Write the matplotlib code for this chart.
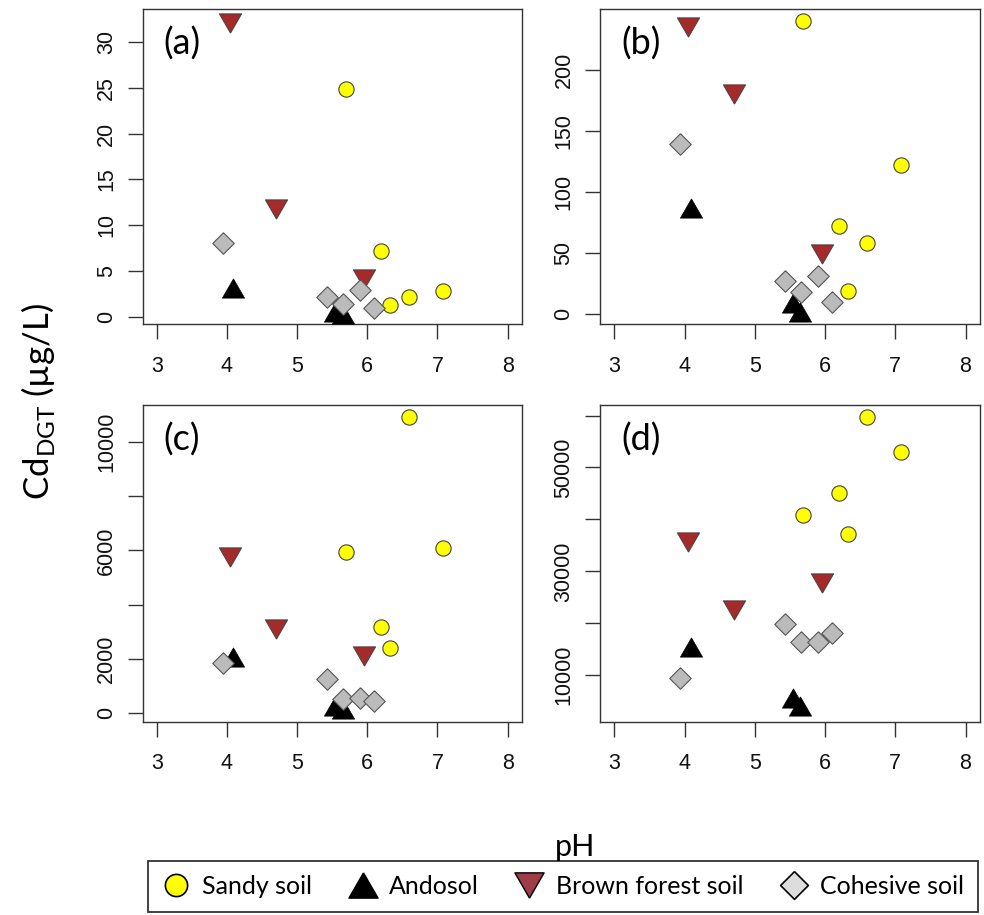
import matplotlib
matplotlib.use("Agg")
import matplotlib.pyplot as plt
from matplotlib.lines import Line2D

plt.rcParams["font.family"] = ["Liberation Sans", "DejaVu Sans"]

# pH of each soil (same in every panel)
sandy_ph = [5.69, 6.20, 6.32, 6.60, 7.08]
andosol_ph = [4.09, 5.54, 5.65]
brown_ph = [4.05, 4.70, 5.95]
cohesive_ph = [3.94, 5.43, 5.66, 5.90, 6.10]

# Cd_DGT values per panel
panel_labels = ["(a)", "(b)", "(c)", "(d)"]
sandy_vals = [
    [24.9, 7.2, 1.3, 2.2, 2.8],
    [240, 72, 19, 58, 122],
    [5950, 3180, 2380, 10950, 6080],
    [40800, 45100, 37100, 59800, 53000],
]
andosol_vals = [
    [3.1, 0.5, 0.3],
    [87, 9, 2],
    [2050, 250, 150],
    [15400, 5700, 4000],
]
brown_vals = [
    [32.1, 11.8, 4.1],
    [235, 180, 49],
    [5750, 3110, 2090],
    [35600, 22600, 27700],
]
cohesive_vals = [
    [8.0, 2.2, 1.4, 2.9, 0.9],
    [139, 27, 18, 31, 10],
    [1850, 1235, 500, 530, 440],
    [9400, 19800, 16400, 16400, 18200],
]
y_limits = [(-0.83, 33.6), (-8.2, 249.6), (-344, 11368), (1000, 61965)]
y_ticks = [
    [0, 5, 10, 15, 20, 25, 30],
    [0, 50, 100, 150, 200],
    [0, 2000, 4000, 6000, 8000, 10000],
    [10000, 20000, 30000, 40000, 50000, 60000],
]
y_ticklabels = [
    ["0", "5", "10", "15", "20", "25", "30"],
    ["0", "50", "100", "150", "200"],
    ["0", "2000", "", "6000", "", "10000"],
    ["10000", "", "30000", "", "50000", ""],
]
x_ticks = [3, 4, 5, 6, 7, 8]

# marker shapes (bbox centred, equilateral triangles)
tri_up = [(0, 0.866), (-1, -0.866), (1, -0.866), (0, 0.866)]
tri_down = [(0, -0.866), (-1, 0.866), (1, 0.866), (0, -0.866)]
diamond = [(0, 1), (1, 0), (0, -1), (-1, 0), (0, 1)]

W, H = 984, 915
fig = plt.figure(figsize=(W / 100, H / 100), dpi=100)

# axes boxes in pixels: left, top, right, bottom
boxes = [
    (142.7, 9, 521.7, 324.3),
    (600.3, 9, 979.6, 324.3),
    (142.7, 405.3, 521.7, 722),
    (600.3, 405.3, 979.6, 722),
]

edge = "#333333"
for i in range(4):
    l, t, r, b = boxes[i]
    ax = fig.add_axes([l / W, 1 - b / H, (r - l) / W, (b - t) / H])

    ax.scatter(sandy_ph, sandy_vals[i], marker="o", s=11 ** 2, c="#FFFF00",
               edgecolors="#444444", linewidths=0.8, zorder=3)
    ax.scatter(andosol_ph, andosol_vals[i], marker=tri_up, s=16 ** 2, c="black",
               edgecolors="black", linewidths=0.5, zorder=3)
    ax.scatter(brown_ph, brown_vals[i], marker=tri_down, s=16 ** 2, c="#A52A2A",
               edgecolors="#444444", linewidths=0.7, zorder=3)
    ax.scatter(cohesive_ph, cohesive_vals[i], marker=diamond, s=15.5 ** 2, c="#BBBBBB",
               edgecolors="#555555", linewidths=0.8, zorder=3)

    ax.set_xlim(2.8, 8.2)
    ax.set_ylim(*y_limits[i])
    ax.set_xticks(x_ticks)
    ax.set_xticklabels([str(v) for v in x_ticks])
    ax.set_yticks(y_ticks[i])
    ax.set_yticklabels(y_ticklabels[i])

    ax.tick_params(axis="both", direction="out", length=10.5, width=1.0,
                   color=edge, labelsize=15.5, labelcolor="#111111")
    ax.tick_params(axis="x", pad=12)
    ax.tick_params(axis="y", pad=8, labelrotation=90)
    for lbl in ax.get_yticklabels():
        lbl.set_va("center")
    for sp in ax.spines.values():
        sp.set_color(edge)
        sp.set_linewidth(1.0)

    ax.text(0.055, 0.945, panel_labels[i], transform=ax.transAxes, ha="left", va="top",
            fontsize=26, family=["Lato", "DejaVu Sans"])

# axis titles
fig.text(575 / W, 1 - 847 / H, "pH", ha="center", va="center", fontsize=22,
         family=["Lato", "DejaVu Sans"])
fig.text(38 / W, 1 - 402 / H, r"Cd$_{\mathregular{DGT}}$ (µg/L)", ha="center", va="center",
         rotation=90, fontsize=25, family=["Lato", "DejaVu Sans"])

# legend
handles = [
    Line2D([], [], ls="none", marker="o", markersize=16, markerfacecolor="#FFFF00",
           markeredgecolor="black", markeredgewidth=1.2),
    Line2D([], [], ls="none", marker=tri_up, markersize=21, markerfacecolor="black",
           markeredgecolor="black"),
    Line2D([], [], ls="none", marker=tri_down, markersize=21, markerfacecolor="#9E3D47",
           markeredgecolor="black", markeredgewidth=1.0),
    Line2D([], [], ls="none", marker=diamond, markersize=20, markerfacecolor="#DDDDDD",
           markeredgecolor="black", markeredgewidth=1.2),
]
names = ["Sandy soil", "Andosol", "Brown forest soil", "Cohesive soil"]
leg = fig.legend(handles, names, ncol=4, loc="center",
                 bbox_to_anchor=(148 / W, 1 - 915 / H, 830 / W, 57 / H), mode="expand",
                 frameon=True, fancybox=False, edgecolor="black", handlelength=1.1,
                 handletextpad=0.5, borderaxespad=0, borderpad=0.55,
                 prop={"family": ["Lato", "DejaVu Sans"], "size": 18})
leg.get_frame().set_linewidth(1.3)

fig.savefig("out.png", dpi=100)
